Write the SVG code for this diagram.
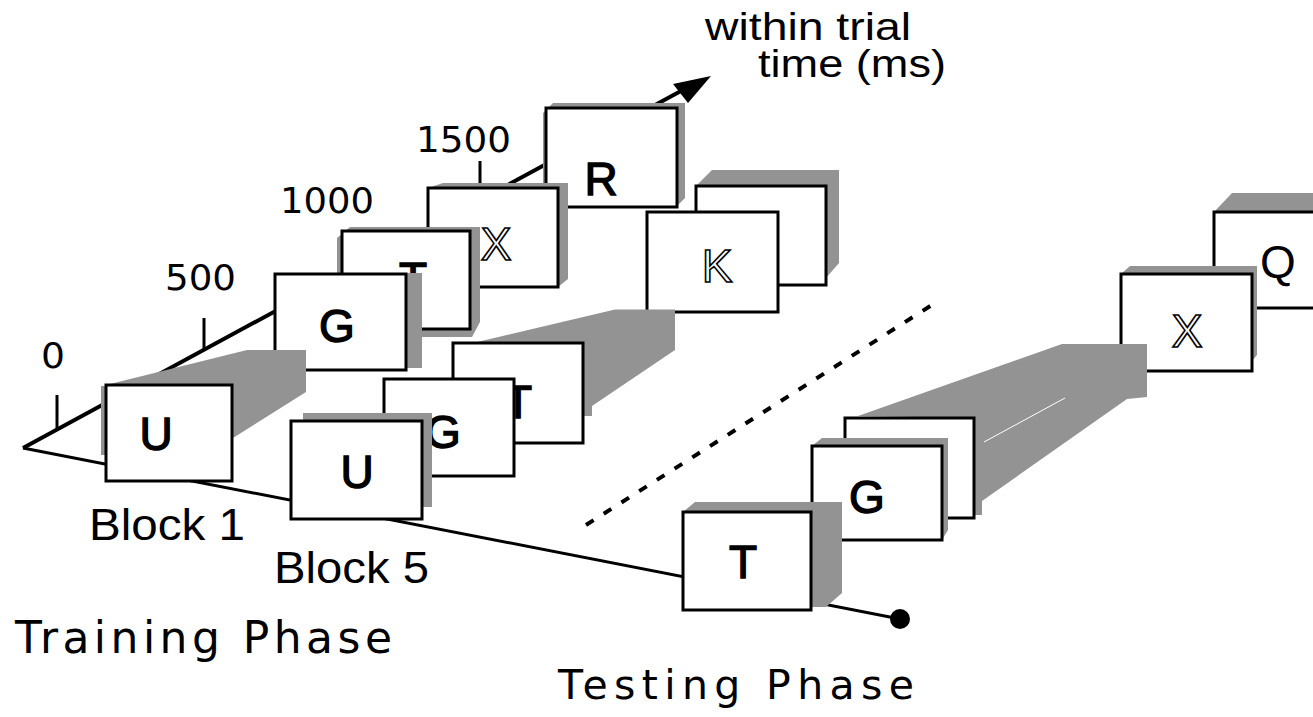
<svg xmlns="http://www.w3.org/2000/svg" width="1313" height="717" viewBox="0 0 1313 717">
<defs>
<style>
.box{fill:#fff;stroke:#000;stroke-width:3;stroke-linejoin:miter}
.sh{fill:#939393}
.ln{stroke:#000;fill:none}
.lt{font-family:"Liberation Sans",Arial,sans-serif;font-weight:normal;font-size:46px;text-anchor:middle;fill:#000;stroke:#000;stroke-width:1.4}
.lq{font-family:"Liberation Sans",Arial,sans-serif;font-weight:normal;font-size:46px;text-anchor:middle;fill:#000}
.ol{font-family:"Liberation Sans",Arial,sans-serif;font-weight:normal;font-size:46px;text-anchor:middle;fill:#fff;stroke:#000;stroke-width:1.6}
.num{font-family:"DejaVu Sans",sans-serif;font-size:35px;fill:#000}
.lab{font-family:"Liberation Sans",Arial,sans-serif;font-size:44px;fill:#000}
.ax{font-family:"Liberation Sans",Arial,sans-serif;font-size:38px;fill:#000}
.ph{font-family:"DejaVu Sans",sans-serif;fill:#000}
</style>
</defs>
<rect width="1313" height="717" fill="#fff"/>
<g id="connectors">
  <line class="ln" x1="23" y1="448" x2="692" y2="85" stroke-width="4"/>
  <polygon points="711,76 673,84 688,103" fill="#000"/>
  <line class="ln" x1="23" y1="448" x2="900" y2="619" stroke-width="3"/>
  <circle cx="900" cy="619" r="10" fill="#000"/>
  <line class="ln" x1="57" y1="395" x2="57" y2="430" stroke-width="3"/>
  <line class="ln" x1="204" y1="318" x2="204" y2="350" stroke-width="3"/>
  <line class="ln" x1="480" y1="161" x2="480" y2="190" stroke-width="3"/>
  <line class="ln" x1="586" y1="525" x2="935" y2="303" stroke-width="4" stroke-dasharray="9 12"/>
</g>
<g id="block1-R">
  <polygon class="sh" points="543,113 553,103 685,103 685,198 676,207 543,207"/>
  <rect class="box" x="546" y="108" width="131" height="99"/>
  <text class="lt" x="601" y="195">R</text>
</g>
<g id="block1-X">
  <polygon class="sh" points="428,188 443,183 568,183 568,279 558,287"/>
  <rect class="box" x="428" y="188" width="130" height="99"/>
  <text class="ol" x="496" y="260">X</text>
</g>
<g id="block1-T">
  <polygon class="sh" points="337,238 350,227 480,227 480,322 472,337 337,337"/>
  <rect class="box" x="342" y="231" width="128" height="98"/>
  <text class="lt" x="413" y="295">T</text>
</g>
<g id="block1-G">
  <rect class="sh" x="406" y="273" width="16" height="95"/>
  <rect class="box" x="275" y="274" width="131" height="96"/>
  <text class="lt" x="337" y="342">G</text>
</g>
<g id="block1-U">
  <rect class="sh" x="101" y="386" width="6" height="69"/>
  <polygon class="sh" points="106,385 247,350 306,350 306,392 233,438 233,385"/>
  <rect class="box" x="106" y="385" width="126" height="96"/>
  <text class="lt" x="156" y="450">U</text>
</g>
<g id="block5-hidden">
  <polygon class="sh" points="696,186 712,170 839,170 839,263 826,278 826,186"/>
  <rect class="box" x="696" y="186" width="130" height="99"/>
</g>
<g id="block5-K">
  <rect class="box" x="647" y="212" width="131" height="100"/>
  <text class="ol" x="717" y="282">K</text>
</g>
<g id="block5-T">
  <polygon class="sh" points="473,343 615,309.5 675,309.5 675,350 592,406 592,416 583,416 583,343"/>
  <rect class="box" x="453" y="343" width="130" height="100"/>
  <text class="lt" x="518" y="418">T</text>
</g>
<g id="block5-G">
  <rect class="box" x="384" y="379" width="130" height="97"/>
  <text class="lt" x="443" y="448">G</text>
</g>
<g id="block5-U">
  <rect class="sh" x="303" y="413" width="129" height="94"/>
  <rect class="box" x="291" y="421" width="131" height="98"/>
  <text class="lt" x="357" y="488">U</text>
</g>
<g id="test-Q">
  <polygon class="sh" points="1214,212 1232,193 1320,193 1320,212"/>
  <rect class="box" x="1214" y="212" width="140" height="96"/>
  <text class="lq" x="1278" y="278">Q</text>
</g>
<g id="test-X">
  <polygon class="sh" points="1121,274 1130,266 1257,266 1257,355 1252,361 1252,274"/>
  <rect class="box" x="1121" y="274" width="131" height="97"/>
  <text class="ol" x="1187" y="347">X</text>
</g>
<g id="test-hidden">
  <polygon class="sh" points="858,416 1062,344 1147,344 1147,397 1127,399 982,501 982,515 974,515 974,418"/>
  <line x1="984" y1="442" x2="1065" y2="398" stroke="#fff" stroke-width="1"/>
  <rect class="box" x="845" y="418" width="129" height="100"/>
</g>
<g id="test-G">
  <polygon class="sh" points="812,446 822,438 948,438 948,530 942,540"/>
  <rect class="box" x="812" y="446" width="130" height="94"/>
  <text class="lt" x="867" y="513">G</text>
</g>
<g id="test-T">
  <polygon class="sh" points="683,512 695,502 842,502 842,593 826,607 811,607"/>
  <rect class="box" x="683" y="512" width="128" height="98"/>
  <text class="lt" x="743" y="578">T</text>
</g>
<g id="labels">
  <text class="num" x="41" y="368" textLength="24" lengthAdjust="spacingAndGlyphs">0</text>
  <text class="num" x="165" y="290" textLength="71" lengthAdjust="spacingAndGlyphs">500</text>
  <text class="num" x="280" y="213" textLength="94" lengthAdjust="spacingAndGlyphs">1000</text>
  <text class="num" x="416" y="152" textLength="95" lengthAdjust="spacingAndGlyphs">1500</text>
  <text class="ax" x="705" y="40" textLength="206" lengthAdjust="spacingAndGlyphs">within trial</text>
  <text class="ax" x="758" y="77" textLength="188" lengthAdjust="spacingAndGlyphs">time (ms)</text>
  <text class="lab" x="89" y="540" textLength="156" lengthAdjust="spacingAndGlyphs">Block 1</text>
  <text class="lab" x="274" y="583" textLength="155" lengthAdjust="spacingAndGlyphs">Block 5</text>
  <text class="ph" x="15" y="653" font-size="44" textLength="377" lengthAdjust="spacing">Training Phase</text>
  <text class="ph" x="558" y="699" font-size="41" textLength="356" lengthAdjust="spacing">Testing Phase</text>
</g>
</svg>
